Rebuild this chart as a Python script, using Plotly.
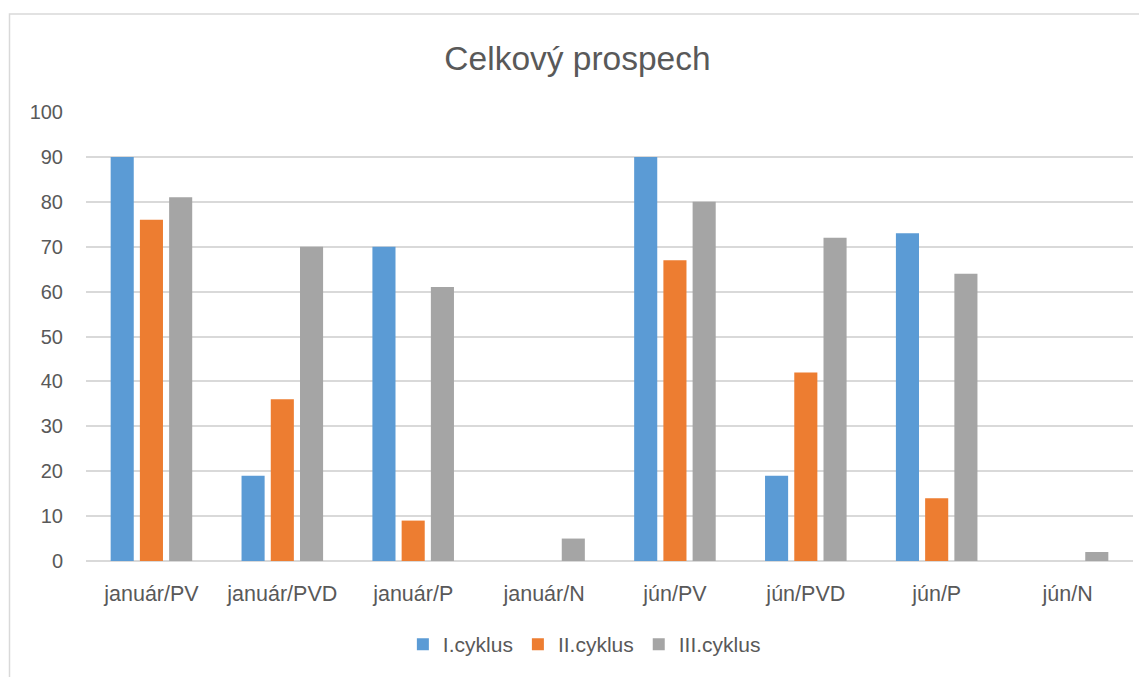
import plotly.graph_objects as go

categories = ["január/PV", "január/PVD", "január/P", "január/N",
              "jún/PV", "jún/PVD", "jún/P", "jún/N"]
series_names = ["I.cyklus", "II.cyklus", "III.cyklus"]
cyklus1 = [90, 19, 70, 0, 90, 19, 73, 0]
cyklus2 = [76, 36, 9, 0, 67, 42, 14, 0]
cyklus3 = [81, 70, 61, 5, 80, 72, 64, 2]
colors = ["#5B9BD5", "#ED7D31", "#A5A5A5"]
y_ticks = list(range(0, 101, 10))

FONT = "Liberation Sans"
TXT = "#595959"

fig = go.Figure()
for name, vals, col in zip(series_names, [cyklus1, cyklus2, cyklus3], colors):
    fig.add_trace(go.Bar(x=categories, y=vals, name=name, marker_color=col,
                         marker_line_width=0))

OFF = 8  # body margin of the html page
W, H = 1147 - OFF, 677 - OFF
L, R, T, B = 86 - OFF, 14, 112 - OFF, 114
pw, ph = W - L - R, H - T - B

fig.update_layout(
    width=W, height=H,
    margin=dict(l=L, r=R, t=T, b=B),
    paper_bgcolor="white", plot_bgcolor="white",
    barmode="group", bargap=0.33, bargroupgap=0.21,
    font=dict(family=FONT, color=TXT, size=20),
    title=dict(text="Celkový prospech", x=0.5, xanchor="center",
               y=1 - (58 - OFF) / H, yanchor="middle",
               font=dict(family=FONT, size=33.5, color=TXT)),
    xaxis=dict(showgrid=False, showline=False, ticks="",
               tickfont=dict(size=21.5, color=TXT), ticklabelstandoff=17),
    yaxis=dict(range=[0, 100], tickvals=y_ticks, showgrid=True,
               gridcolor="#D9D9D9", gridwidth=1.5, zeroline=True,
               zerolinecolor="#D9D9D9", zerolinewidth=1.5, showline=False,
               ticks="", tickfont=dict(size=20, color=TXT), ticklabelstandoff=22),
    legend=dict(orientation="h", x=0.476, xanchor="center",
                y=-(647 - 563) / ph, yanchor="middle",
                font=dict(size=21, color=TXT), itemwidth=30,
                traceorder="normal"),
    showlegend=True,
)

fig.add_shape(type="rect", xref="paper", yref="paper",
              x0=(1.5 - L) / pw, x1=(W + 20 - L) / pw,
              y0=-(H + 20 - (T + ph)) / ph, y1=(T + ph - 5.5) / ph,
              line=dict(color="#D9D9D9", width=1.5), fillcolor="rgba(0,0,0,0)",
              layer="below")

fig.write_html("out.html")
